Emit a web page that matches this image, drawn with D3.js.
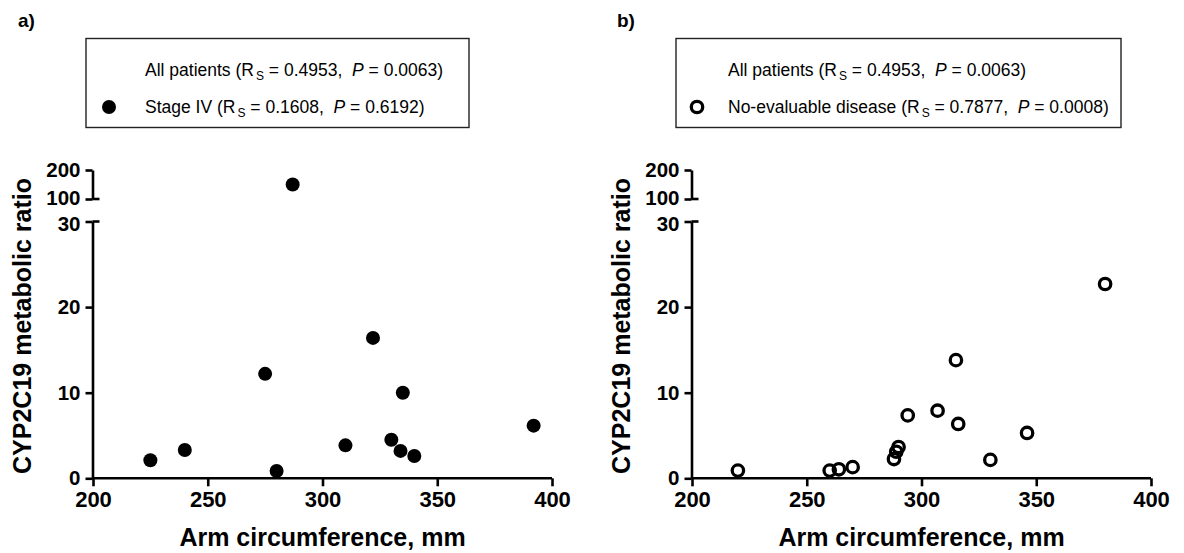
<!DOCTYPE html>
<html>
<head>
<meta charset="utf-8">
<script src="https://cdn.jsdelivr.net/npm/d3@7"></script>
<style>
  html, body { margin: 0; padding: 0; background: #fff; }
  svg { display: block; }
  svg text { font-family: "Liberation Sans", Arial, Helvetica, sans-serif; }
</style>
</head>
<body>
<svg id="chart" width="1184" height="553"></svg>
<script>
// Axis ticks
const xTicks = [200, 250, 300, 350, 400];
const yTicksLower = [0, 10, 20, 30];
const yTicksUpper = [100, 200];

// Panel a) – Stage IV patients
const stageIVArm   = [225, 240, 275, 280, 287, 310, 322, 330, 334, 335, 340, 392];
const stageIVRatio = [2.1, 3.3, 12.2, 0.85, 150, 3.85, 16.4, 4.5, 3.2, 10.0, 2.6, 6.15];

// Panel b) – patients with no evaluable disease
const noEvalArm   = [220, 260, 264, 270, 288, 289, 290, 294, 307, 315, 316, 330, 346, 380];
const noEvalRatio = [0.9, 0.9, 1.05, 1.3, 2.25, 3.1, 3.65, 7.35, 7.9, 13.8, 6.35, 2.15, 5.3, 22.7];

// Correlation statistics shown in the legends
const allStats     = { rs: "0.4953", p: "0.0063" };
const stageIVStats = { rs: "0.1608", p: "0.6192" };
const noEvalStats  = { rs: "0.7877", p: "0.0008" };

const svg = d3.select("#chart");

function statsText(sel, label, st) {
  sel.append("tspan").text(label + " (R");
  sel.append("tspan").attr("font-size", 12).attr("dx", 2).attr("dy", 4).text("S");
  sel.append("tspan").attr("dy", -4).text("\u00A0= " + st.rs + ",\u00A0\u00A0");
  sel.append("tspan").attr("font-style", "italic").text("P");
  sel.append("tspan").text("\u00A0= " + st.p + ")");
}

function drawMarker(g, cx, cy, filled) {
  if (filled) {
    g.append("circle").attr("cx", cx).attr("cy", cy).attr("r", 7).attr("fill", "#000");
  } else {
    g.append("circle").attr("cx", cx).attr("cy", cy).attr("r", 5.7)
      .attr("fill", "none").attr("stroke", "#000").attr("stroke-width", 3.3);
  }
}

function drawPanel(cfg) {
  const g = svg.append("g");
  const ox = cfg.ox;

  const x = d3.scaleLinear().domain([200, 400]).range([ox + 93, ox + 552]);
  const yLow = d3.scaleLinear().domain([0, 30]).range([478.3, 221.5]);
  const yUp = d3.scaleLinear().domain([100, 200]).range([199, 170]);
  const axisX = ox + 92.5;
  const yOf = v => v > 30 ? yUp(v) : yLow(v);

  // panel letter
  g.append("text").attr("x", ox + 18).attr("y", 27)
    .attr("font-size", 19).attr("font-weight", "bold").text(cfg.letter);

  // legend box
  g.append("rect").attr("x", cfg.box[0]).attr("y", 38.5)
    .attr("width", cfg.box[1] - cfg.box[0]).attr("height", 89)
    .attr("fill", "none").attr("stroke", "#222").attr("stroke-width", 1.4);

  const t1 = g.append("text").attr("x", cfg.textX).attr("y", 76).attr("font-size", 17.5);
  statsText(t1, "All patients", allStats);
  const t2 = g.append("text").attr("x", cfg.textX).attr("y", 113).attr("font-size", 17.5);
  statsText(t2, cfg.seriesLabel, cfg.stats);
  drawMarker(g, cfg.markerX, 107, cfg.filled);

  // x axis
  const gx = g.append("g").attr("transform", "translate(0,478.3)")
    .call(d3.axisBottom(x).tickValues(xTicks).tickSize(8).tickSizeOuter(0).tickPadding(5));
  gx.select(".domain").attr("d", `M${axisX},0H${x(400)}`);

  // y axis, lower segment
  const gyl = g.append("g").attr("transform", `translate(${axisX},0)`)
    .call(d3.axisLeft(yLow).tickValues(yTicksLower).tickSize(7).tickSizeOuter(0).tickPadding(5));
  // y axis, upper segment
  const gyu = g.append("g").attr("transform", `translate(${axisX},0)`)
    .call(d3.axisLeft(yUp).tickValues(yTicksUpper).tickSize(7).tickSizeOuter(0).tickPadding(5));

  // break caps extend to the right of the axis
  [[yLow, 30], [yUp, 100]].forEach(([s, v]) => {
    g.append("line").attr("x1", axisX).attr("x2", axisX + 7)
      .attr("y1", s(v)).attr("y2", s(v)).attr("stroke", "#000").attr("stroke-width", 2.6);
  });

  [gx, gyl, gyu].forEach(a => {
    a.attr("font-family", null).attr("font-size", null);
    a.selectAll(".domain").attr("stroke", "#000").attr("stroke-width", 2.6);
    a.selectAll(".tick line").attr("stroke", "#000").attr("stroke-width", 2.6);
    a.selectAll("text").attr("font-weight", "bold").attr("fill", "#000");
  });
  gx.selectAll("text").attr("font-size", 22);
  gyl.selectAll("text").attr("font-size", 20.5);
  gyu.selectAll("text").attr("font-size", 20.5);
  // keep the labels on either side of the break apart
  gyl.selectAll(".tick").filter(d => d === 30).select("text").attr("dy", "0.42em");
  gyu.selectAll(".tick").filter(d => d === 100).select("text").attr("dy", "0.25em");

  // axis titles
  g.append("text").attr("x", (x(200) + x(400)) / 2).attr("y", 546)
    .attr("text-anchor", "middle").attr("font-size", 25).attr("font-weight", "bold")
    .text("Arm circumference, mm");
  g.append("text").attr("transform", `translate(${ox + 31},326) rotate(-90)`)
    .attr("text-anchor", "middle").attr("font-size", 25).attr("font-weight", "bold")
    .text("CYP2C19 metabolic ratio");

  // points
  cfg.xs.forEach((v, i) => drawMarker(g, x(v), yOf(cfg.ys[i]), cfg.filled));
}

drawPanel({
  ox: 0, letter: "a)", box: [86, 469], textX: 145, markerX: 109,
  seriesLabel: "Stage IV", stats: stageIVStats, filled: true,
  xs: stageIVArm, ys: stageIVRatio
});
drawPanel({
  ox: 599, letter: "b)", box: [676, 1121], textX: 728, markerX: 697,
  seriesLabel: "No-evaluable disease", stats: noEvalStats, filled: false,
  xs: noEvalArm, ys: noEvalRatio
});
</script>
</body>
</html>
